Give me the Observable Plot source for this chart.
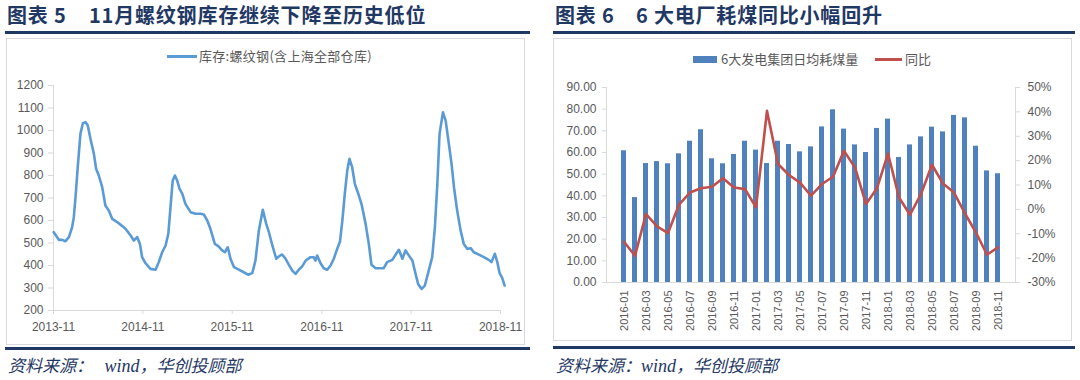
<!DOCTYPE html>
<html><head><meta charset="utf-8">
<script src="https://cdn.jsdelivr.net/npm/d3@7"></script>
<script src="https://cdn.jsdelivr.net/npm/@observablehq/plot@0.6"></script>
<style>
body{margin:0;width:1080px;height:380px;background:#fff;position:relative;overflow:hidden;font-family:"Liberation Sans","Noto Sans CJK SC",sans-serif;}
.abs{position:absolute;}
.title{font-family:"Noto Sans CJK SC";font-weight:700;font-size:20px;line-height:24px;color:#1F3864;letter-spacing:0.8px;white-space:pre;}
.rule{background:#1F3864;height:3px;}
.box{border:1px solid #d9d9d9;box-sizing:border-box;}
.src{font-family:"Noto Sans CJK SC";font-style:italic;font-size:17px;line-height:20px;color:#1F3864;white-space:pre;}
.src .w{font-family:"Liberation Serif";font-size:18px;}
.leg{font-family:"Noto Sans CJK SC";font-size:13px;line-height:16px;color:#595959;white-space:pre;}
</style></head><body>
<div class="abs title" style="left:7px;top:3px">图表 5</div>
<div class="abs title" style="left:89px;top:3px">11月螺纹钢库存继续下降至历史低位</div>
<div class="abs rule" style="left:5px;top:31px;width:525px"></div>
<div class="abs box" style="left:6px;top:38px;width:519px;height:307px"></div>
<div id="c1" class="abs" style="left:6px;top:40px"></div>
<div class="abs" style="left:167px;top:55px;width:30px;height:3px;background:#5B9BD5"></div>
<div class="abs leg" style="left:199px;top:48px;letter-spacing:0.3px">库存:螺纹钢(含上海全部仓库)</div>
<div class="abs rule" style="left:5px;top:347px;width:525px"></div>
<div class="abs src" style="left:8px;top:355px">资料来源：   <span class="w">wind</span>，华创投顾部</div>

<div class="abs title" style="left:555px;top:3px">图表 6</div>
<div class="abs title" style="left:636px;top:3px">6 大电厂耗煤同比小幅回升</div>
<div class="abs rule" style="left:553px;top:31px;width:522px"></div>
<div class="abs box" style="left:553px;top:38px;width:519px;height:303px"></div>
<div id="c2" class="abs" style="left:553px;top:40px"></div>
<div class="abs" style="left:693px;top:56px;width:24px;height:7px;background:#4F81BD"></div>
<div class="abs leg" style="left:721px;top:51px">6大发电集团日均耗煤量</div>
<div class="abs" style="left:875px;top:58px;width:27px;height:3px;background:#C0504D"></div>
<div class="abs leg" style="left:905px;top:51px">同比</div>
<div class="abs rule" style="left:553px;top:346px;width:522px"></div>
<div class="abs src" style="left:556px;top:355px">资料来源：<span class="w">wind</span>，华创投顾部</div>

<script>
// ---- Chart 1: 螺纹钢库存 (weekly) ----
const stockDates = [
"2013-11-02","2013-11-23","2013-12-07","2013-12-20","2014-01-03","2014-01-16","2014-01-23","2014-01-30","2014-02-08","2014-02-19",
"2014-03-01","2014-03-12","2014-03-21","2014-04-01","2014-04-15","2014-04-24","2014-05-05","2014-05-19","2014-06-01","2014-06-15",
"2014-06-29","2014-07-19","2014-08-09","2014-08-22","2014-09-12","2014-09-25","2014-10-09","2014-10-20","2014-10-29","2014-11-12",
"2014-12-02","2014-12-23","2015-01-05","2015-01-19","2015-02-02","2015-02-13","2015-02-22","2015-03-03","2015-03-12","2015-03-21",
"2015-03-31","2015-04-11","2015-04-24","2015-05-15","2015-06-04","2015-06-25","2015-07-08","2015-07-22","2015-08-04","2015-08-22",
"2015-09-05","2015-09-21","2015-10-02","2015-10-14","2015-10-25","2015-11-08","2015-11-28","2015-12-18","2016-01-05","2016-01-22",
"2016-02-04","2016-02-18","2016-03-05","2016-03-19","2016-03-30","2016-04-13","2016-04-29","2016-05-09","2016-05-23","2016-06-06",
"2016-06-19","2016-07-03","2016-07-17","2016-07-30","2016-08-13","2016-08-27","2016-09-16","2016-09-29","2016-10-06","2016-10-13",
"2016-10-27","2016-11-09","2016-11-23","2016-12-07","2016-12-20","2017-01-03","2017-01-14","2017-01-24","2017-02-03","2017-02-13",
"2017-02-22","2017-03-05","2017-03-16","2017-03-30","2017-04-12","2017-04-29","2017-05-12","2017-05-23","2017-06-09","2017-06-29",
"2017-07-12","2017-07-26","2017-08-16","2017-09-01","2017-09-12","2017-09-26","2017-10-09","2017-10-23","2017-11-06","2017-11-19",
"2017-11-30","2017-12-14","2017-12-27","2018-01-12","2018-01-26","2018-02-06","2018-02-16","2018-02-25","2018-03-11","2018-03-22",
"2018-04-04","2018-04-15","2018-04-25","2018-05-08","2018-05-22","2018-06-04","2018-06-18","2018-07-02","2018-07-15","2018-08-05",
"2018-08-25","2018-09-14","2018-09-25","2018-10-09","2018-10-19","2018-10-28","2018-11-08","2018-11-18"
];
const stockValues = [
548,514,514,508,526,570,615,704,837,985,
1032,1037,1022,963,896,830,800,748,667,644,
607,593,575,563,533,511,526,496,437,410,
385,381,415,459,489,541,659,778,800,778,
741,719,674,637,630,630,627,600,563,496,
486,467,459,481,430,393,382,370,359,366,
422,556,648,585,548,489,430,440,449,430,
404,378,363,381,396,422,437,437,422,444,
410,388,381,400,430,474,504,600,719,822,
874,837,763,719,674,585,496,403,388,388,
388,415,425,452,470,430,467,444,422,363,
316,296,311,378,437,570,763,985,1081,1044,
941,852,748,644,556,496,474,477,459,448,
437,425,415,452,415,367,345,311
];
const stockYTicks = [200,300,400,500,600,700,800,900,1000,1100,1200];
const stockXTicks = ["2013-11","2014-11","2015-11","2016-11","2017-11","2018-11"];

// ---- Chart 2: 6大发电集团日均耗煤量 & 同比 ----
const months = ["2016-01","2016-02","2016-03","2016-04","2016-05","2016-06","2016-07","2016-08","2016-09","2016-10","2016-11","2016-12",
"2017-01","2017-02","2017-03","2017-04","2017-05","2017-06","2017-07","2017-08","2017-09","2017-10","2017-11","2017-12",
"2018-01","2018-02","2018-03","2018-04","2018-05","2018-06","2018-07","2018-08","2018-09","2018-10","2018-11"];
const coal = [60.8,39.2,54.9,55.8,54.8,59.4,65.2,70.5,57.1,54.8,59.1,65.2,
61.1,54.9,65.2,63.7,60.3,62.6,71.8,79.7,70.8,63.5,60.0,71.1,
75.4,57.7,63.5,67.2,71.7,69.5,77.1,76.0,62.9,51.5,50.2];
const yoy = [-13.3,-19.0,-1.9,-7.0,-9.7,1.9,6.9,8.7,9.3,12.8,9.0,8.3,
0.8,40.4,18.6,14.1,11.0,5.6,10.4,13.4,24.0,17.2,2.2,8.7,
22.9,4.9,-2.2,6.3,18.3,10.6,6.9,-1.7,-9.5,-18.6,-15.6];
const coalTicks = [0,10,20,30,40,50,60,70,80,90];
const yoyTicks = [-30,-20,-10,0,10,20,30,40,50];
const monthTicks = ["2016-01","2016-03","2016-05","2016-07","2016-09","2016-11","2017-01","2017-03","2017-05","2017-07","2017-09","2017-11","2018-01","2018-03","2018-05","2018-07","2018-09","2018-11"];

const gray = "#595959", axisGray = "#d9d9d9";

// Chart 1
const stock = stockDates.map((d, i) => ({date: new Date(d), value: stockValues[i]}));
const xTickDates = stockXTicks.map(s => new Date(s + "-01"));
const c1 = Plot.plot({
  width: 520, height: 300,
  marginLeft: 47, marginRight: 26, marginTop: 45, marginBottom: 30,
  x: {type: "utc", domain: [xTickDates[0], xTickDates[xTickDates.length - 1]]},
  y: {domain: [200, 1200]},
  style: {fontFamily: "Liberation Sans", fontSize: "12px", color: gray, background: "transparent"},
  marks: [
    Plot.ruleY([200], {stroke: axisGray}),
    Plot.ruleX([xTickDates[0]], {stroke: axisGray}),
    Plot.axisY({ticks: stockYTicks, tickFormat: d => String(d), tickSize: 5, tickPadding: 5, stroke: axisGray, fill: gray, label: null}),
    Plot.axisX({ticks: xTickDates, tickFormat: d3.utcFormat("%Y-%m"), tickSize: 4, tickPadding: 8, stroke: axisGray, fill: gray, label: null}),
    Plot.lineY(stock, {x: "date", y: "value", stroke: "#5B9BD5", strokeWidth: 2.6, curve: "linear"})
  ]
});
document.getElementById("c1").appendChild(c1);

// Chart 2
const toLeft = p => (p + 30) / 80 * 90;
const coalData = months.map((m, i) => ({month: m, value: coal[i], yoy: yoy[i]}));
const c2 = Plot.plot({
  width: 519, height: 300,
  marginLeft: 53, marginRight: 57, marginTop: 47, marginBottom: 58,
  x: {type: "band", domain: months, paddingInner: 0.55, paddingOuter: 0.275},
  y: {domain: [0, 90]},
  style: {fontFamily: "Liberation Sans", fontSize: "12px", color: gray, background: "transparent"},
  marks: [
    Plot.barY(coalData, {x: "month", y: "value", fill: "#4F81BD"}),
    Plot.frame({anchor: "left", stroke: axisGray}),
    Plot.frame({anchor: "right", stroke: axisGray}),
    Plot.frame({anchor: "bottom", stroke: axisGray}),
    Plot.axisY({ticks: coalTicks, tickFormat: d => d.toFixed(2), tickSize: 4, tickPadding: 6, stroke: axisGray, fill: gray, label: null}),
    Plot.axisY({anchor: "right", ticks: yoyTicks.map(toLeft), tickFormat: v => Math.round(v / 90 * 80 - 30) + "%", tickSize: 4, tickPadding: 8, stroke: axisGray, fill: gray, label: null}),
    Plot.axisX({ticks: monthTicks, tickRotate: -90, tickSize: 0, tickPadding: 8, fontSize: 11, fill: gray, label: null}),
    Plot.lineY(coalData, {x: "month", y: d => toLeft(d.yoy), stroke: "#C0504D", strokeWidth: 2.6})
  ]
});
document.getElementById("c2").appendChild(c2);
</script>
</body></html>
